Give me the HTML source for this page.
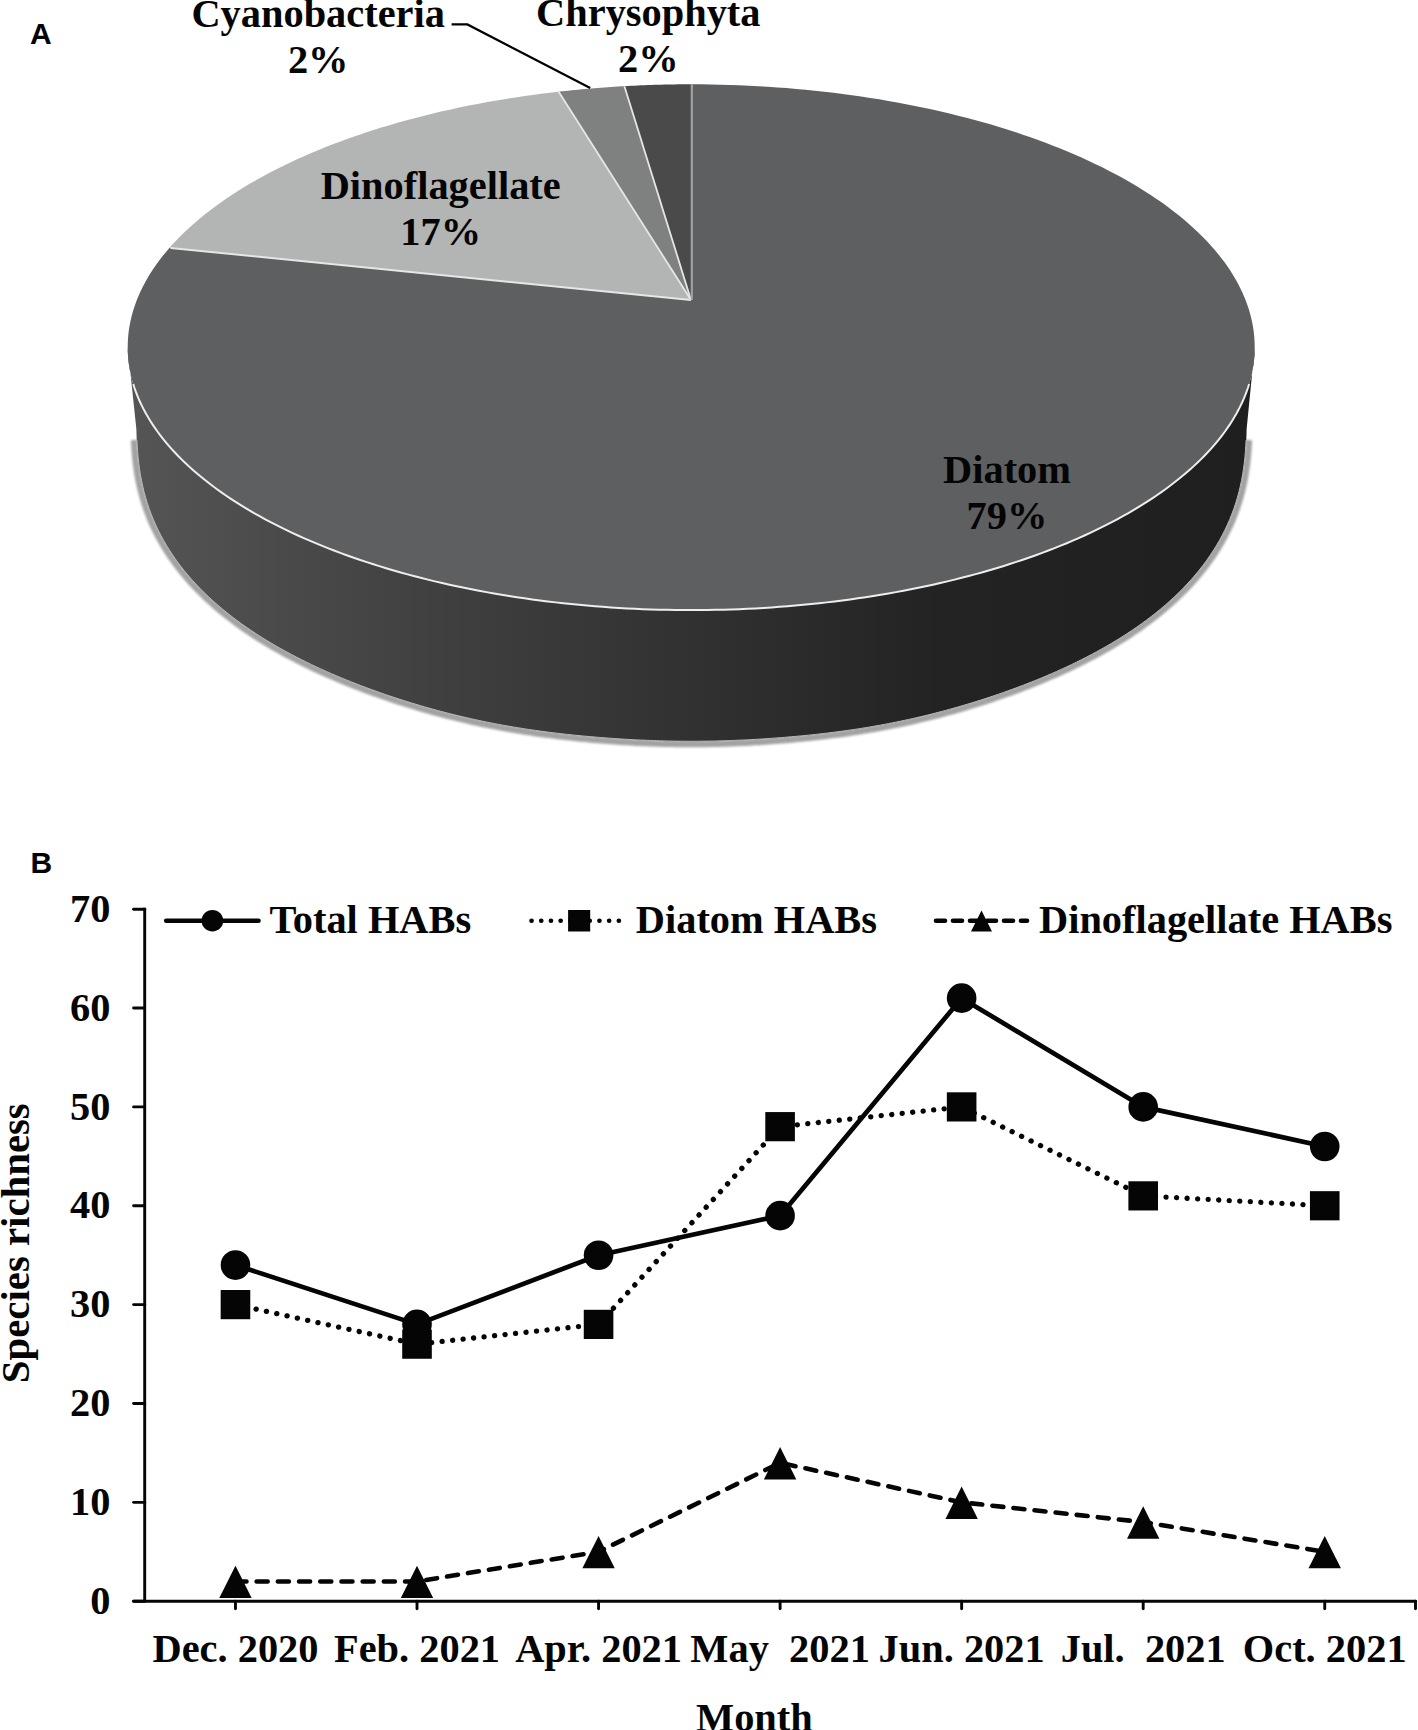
<!DOCTYPE html>
<html><head><meta charset="utf-8"><style>
html,body{margin:0;padding:0;background:#fff;}
body{width:1418px;height:1730px;overflow:hidden;}
svg{display:block;}
</style></head><body>
<svg width="1418" height="1730" viewBox="0 0 1418 1730">
<defs>
<linearGradient id="sideg" gradientUnits="userSpaceOnUse" x1="128" y1="0" x2="1255" y2="0">
<stop offset="0" stop-color="#555555"/>
<stop offset="0.15" stop-color="#494949"/>
<stop offset="0.33" stop-color="#3c3c3c"/>
<stop offset="0.5" stop-color="#313131"/>
<stop offset="0.72" stop-color="#232323"/>
<stop offset="1" stop-color="#1f1f1f"/>
</linearGradient>
<filter id="blur2" x="-5%" y="-5%" width="110%" height="110%"><feGaussianBlur stdDeviation="1.3"/></filter>
</defs>
<rect width="1418" height="1730" fill="#ffffff"/>
<polyline points="1248.88,440.00 1248.58,445.83 1248.19,451.66 1247.68,457.48 1247.04,463.28 1246.28,469.07 1245.37,474.85 1244.32,480.60 1243.11,486.32 1241.75,492.01 1240.22,497.67 1238.53,503.29 1236.66,508.87 1234.64,514.40 1232.44,519.88 1230.08,525.30 1227.55,530.67 1224.85,535.97 1222.00,541.20 1218.99,546.36 1215.83,551.45 1212.52,556.46 1209.07,561.39 1205.48,566.25 1201.76,571.01 1197.91,575.69 1193.94,580.28 1189.86,584.79 1185.67,589.20 1181.37,593.52 1176.99,597.74 1172.51,601.88 1167.96,605.92 1163.33,609.87 1158.63,613.72 1153.87,617.49 1149.05,621.16 1144.19,624.74 1139.28,628.23 1134.33,631.63 1129.35,634.94 1124.34,638.17 1119.31,641.31 1114.26,644.37 1109.20,647.35 1104.13,650.24 1099.05,653.06 1093.98,655.81 1088.91,658.48 1083.84,661.07 1078.79,663.60 1073.74,666.06 1068.71,668.45 1063.70,670.77 1058.71,673.04 1053.74,675.24 1048.79,677.38 1043.87,679.47 1038.97,681.50 1034.10,683.47 1029.26,685.40 1024.45,687.27 1019.67,689.09 1014.91,690.87 1010.19,692.59 1005.50,694.28 1000.85,695.91 996.22,697.51 991.62,699.06 987.06,700.57 982.53,702.04 978.03,703.48 973.56,704.87 969.12,706.23 964.71,707.55 960.34,708.84 955.99,710.09 951.67,711.30 947.38,712.49 943.12,713.64 938.89,714.75 934.69,715.84 930.51,716.90 926.36,717.92 922.24,718.92 918.14,719.88 914.07,720.82 910.03,721.73 906.01,722.61 902.02,723.46 898.05,724.29 894.11,725.10 890.19,725.87 886.29,726.62 882.42,727.35 878.57,728.06 874.74,728.74 870.94,729.40 867.15,730.04 863.39,730.65 859.65,731.25 855.94,731.83 852.24,732.38 848.56,732.92 844.91,733.44 841.27,733.94 837.66,734.43 834.06,734.90 830.48,735.35 826.92,735.79 823.38,736.21 819.86,736.61 816.35,737.01 812.86,737.39 809.39,737.76 805.93,738.11 802.49,738.45 799.07,738.78 795.66,739.10 792.26,739.41 788.88,739.70 785.51,739.99 782.15,740.26 778.81,740.53 775.48,740.78 772.16,741.03 768.85,741.26 765.55,741.49 762.26,741.70 758.98,741.91 755.71,742.11 752.45,742.29 749.20,742.47 745.95,742.64 742.71,742.80 739.48,742.95 736.26,743.09 733.04,743.22 729.82,743.34 726.61,743.46 723.41,743.56 720.20,743.65 717.01,743.74 713.81,743.81 710.62,743.87 707.43,743.93 704.24,743.97 701.05,744.01 697.87,744.03 694.68,744.05 691.50,744.05 688.32,744.05 685.13,744.03 681.95,744.01 678.76,743.97 675.57,743.93 672.38,743.87 669.19,743.81 665.99,743.74 662.80,743.65 659.59,743.56 656.39,743.46 653.18,743.34 649.96,743.22 646.74,743.09 643.52,742.95 640.29,742.80 637.05,742.64 633.80,742.47 630.55,742.29 627.29,742.11 624.02,741.91 620.74,741.70 617.45,741.49 614.15,741.26 610.84,741.03 607.52,740.78 604.19,740.53 600.85,740.26 597.49,739.99 594.12,739.70 590.74,739.41 587.34,739.10 583.93,738.78 580.51,738.45 577.07,738.11 573.61,737.76 570.14,737.39 566.65,737.01 563.14,736.61 559.62,736.21 556.08,735.79 552.52,735.35 548.94,734.90 545.34,734.43 541.73,733.94 538.09,733.44 534.44,732.92 530.76,732.38 527.06,731.83 523.35,731.25 519.61,730.65 515.85,730.04 512.06,729.40 508.26,728.74 504.43,728.06 500.58,727.35 496.71,726.62 492.81,725.87 488.89,725.10 484.95,724.29 480.98,723.46 476.99,722.61 472.97,721.73 468.93,720.82 464.86,719.88 460.76,718.92 456.64,717.92 452.49,716.90 448.31,715.84 444.11,714.75 439.88,713.64 435.62,712.49 431.33,711.30 427.01,710.09 422.66,708.84 418.29,707.55 413.88,706.23 409.44,704.87 404.97,703.48 400.47,702.04 395.94,700.57 391.38,699.06 386.78,697.51 382.15,695.91 377.50,694.28 372.81,692.59 368.09,690.87 363.33,689.09 358.55,687.27 353.74,685.40 348.90,683.47 344.03,681.50 339.13,679.47 334.21,677.38 329.26,675.24 324.29,673.04 319.30,670.77 314.29,668.45 309.26,666.06 304.21,663.60 299.16,661.07 294.09,658.48 289.02,655.81 283.95,653.06 278.87,650.24 273.80,647.35 268.74,644.37 263.69,641.31 258.66,638.17 253.65,634.94 248.67,631.63 243.72,628.23 238.81,624.74 233.95,621.16 229.13,617.49 224.37,613.72 219.67,609.87 215.04,605.92 210.49,601.88 206.01,597.74 201.63,593.52 197.33,589.20 193.14,584.79 189.06,580.28 185.09,575.69 181.24,571.01 177.52,566.25 173.93,561.39 170.48,556.46 167.17,551.45 164.01,546.36 161.00,541.20 158.15,535.97 155.45,530.67 152.92,525.30 150.56,519.88 148.36,514.40 146.34,508.87 144.47,503.29 142.78,497.67 141.25,492.01 139.89,486.32 138.68,480.60 137.63,474.85 136.72,469.07 135.96,463.28 135.32,457.48 134.81,451.66 134.42,445.83 134.12,440.00" fill="none" stroke="#a2a2a2" stroke-width="6.5" filter="url(#blur2)"/>
<polygon points="127.70,347.20 127.77,351.33 127.98,355.46 128.33,359.58 128.81,363.71 129.44,367.83 130.20,371.94 131.10,376.05 132.14,380.15 133.32,384.24 134.64,388.33 136.09,392.40 137.68,396.46 139.41,400.51 141.27,404.55 143.27,408.57 145.40,412.58 147.67,416.57 150.07,420.55 152.61,424.50 155.28,428.44 158.08,432.36 161.01,436.25 164.08,440.13 167.27,443.98 170.59,447.81 174.05,451.61 177.62,455.39 181.33,459.14 185.16,462.86 189.12,466.55 193.20,470.22 197.40,473.85 201.73,477.46 206.17,481.03 210.74,484.56 215.42,488.07 220.22,491.54 225.14,494.97 230.17,498.37 235.32,501.73 240.58,505.05 245.95,508.33 251.43,511.58 257.02,514.78 262.71,517.94 268.51,521.06 274.42,524.13 280.43,527.17 286.54,530.16 292.75,533.10 299.05,536.00 305.46,538.85 311.96,541.65 318.55,544.40 325.24,547.11 332.01,549.77 338.88,552.38 345.83,554.93 352.86,557.44 359.98,559.89 367.18,562.29 374.47,564.64 381.83,566.93 389.26,569.17 396.77,571.36 404.36,573.49 412.01,575.56 419.73,577.58 427.52,579.54 435.38,581.45 443.29,583.29 451.27,585.08 459.31,586.81 467.41,588.48 475.56,590.09 483.76,591.64 492.02,593.13 500.32,594.56 508.67,595.93 517.07,597.23 525.51,598.48 533.99,599.66 542.51,600.78 551.06,601.84 559.65,602.84 568.28,603.77 576.93,604.64 585.61,605.44 594.32,606.19 603.05,606.86 611.80,607.48 620.57,608.03 629.36,608.51 638.17,608.93 646.99,609.29 655.82,609.58 664.66,609.81 673.50,609.97 682.35,610.07 691.20,610.10 700.05,610.07 708.90,609.97 717.74,609.81 726.58,609.58 735.41,609.29 744.23,608.93 753.04,608.51 761.83,608.03 770.60,607.48 779.35,606.86 788.08,606.19 796.79,605.44 805.47,604.64 814.12,603.77 822.75,602.84 831.34,601.84 839.89,600.78 848.41,599.66 856.89,598.48 865.33,597.23 873.73,595.93 882.08,594.56 890.38,593.13 898.64,591.64 906.84,590.09 914.99,588.48 923.09,586.81 931.13,585.08 939.11,583.29 947.02,581.45 954.88,579.54 962.67,577.58 970.39,575.56 978.04,573.49 985.63,571.36 993.14,569.17 1000.57,566.93 1007.93,564.64 1015.22,562.29 1022.42,559.89 1029.54,557.44 1036.57,554.93 1043.52,552.38 1050.39,549.77 1057.16,547.11 1063.85,544.40 1070.44,541.65 1076.94,538.85 1083.35,536.00 1089.65,533.10 1095.86,530.16 1101.97,527.17 1107.98,524.13 1113.89,521.06 1119.69,517.94 1125.38,514.78 1130.97,511.58 1136.45,508.33 1141.82,505.05 1147.08,501.73 1152.23,498.37 1157.26,494.97 1162.18,491.54 1166.98,488.07 1171.66,484.56 1176.23,481.03 1180.67,477.46 1185.00,473.85 1189.20,470.22 1193.28,466.55 1197.24,462.86 1201.07,459.14 1204.78,455.39 1208.35,451.61 1211.81,447.81 1215.13,443.98 1218.32,440.13 1221.39,436.25 1224.32,432.36 1227.12,428.44 1229.79,424.50 1232.33,420.55 1234.73,416.57 1237.00,412.58 1239.13,408.57 1241.13,404.55 1242.99,400.51 1244.72,396.46 1246.31,392.40 1247.76,388.33 1249.08,384.24 1250.26,380.15 1251.30,376.05 1252.20,371.94 1252.96,367.83 1253.59,363.71 1254.07,359.58 1254.42,355.46 1254.63,351.33 1254.70,347.20 1246.63,428.90 1246.48,434.79 1246.25,440.67 1245.94,446.55 1245.52,452.42 1244.99,458.29 1244.33,464.14 1243.53,469.97 1242.59,475.78 1241.49,481.57 1240.24,487.34 1238.82,493.07 1237.24,498.76 1235.48,504.42 1233.56,510.03 1231.46,515.59 1229.19,521.09 1226.75,526.54 1224.14,531.92 1221.37,537.24 1218.43,542.49 1215.33,547.67 1212.08,552.76 1208.68,557.78 1205.14,562.72 1201.45,567.57 1197.64,572.34 1193.69,577.01 1189.63,581.59 1185.45,586.09 1181.17,590.48 1176.78,594.79 1172.30,599.00 1167.74,603.11 1163.09,607.13 1158.38,611.05 1153.59,614.88 1148.75,618.61 1143.85,622.25 1138.91,625.80 1133.92,629.25 1128.90,632.62 1123.85,635.90 1118.78,639.08 1113.68,642.19 1108.57,645.21 1103.45,648.14 1098.33,651.00 1093.20,653.77 1088.08,656.48 1082.96,659.10 1077.85,661.65 1072.75,664.14 1067.67,666.55 1062.60,668.90 1057.56,671.18 1052.53,673.40 1047.53,675.56 1042.56,677.66 1037.61,679.70 1032.69,681.69 1027.80,683.62 1022.94,685.50 1018.11,687.33 1013.31,689.11 1008.54,690.84 1003.81,692.53 999.11,694.17 994.44,695.76 989.80,697.31 985.20,698.83 980.62,700.30 976.08,701.73 971.58,703.12 967.10,704.47 962.66,705.79 958.25,707.07 953.86,708.31 949.51,709.52 945.19,710.70 940.90,711.84 936.64,712.95 932.41,714.03 928.20,715.08 924.03,716.09 919.88,717.08 915.76,718.03 911.66,718.96 907.59,719.86 903.55,720.73 899.54,721.57 895.54,722.39 891.58,723.18 887.64,723.94 883.72,724.68 879.83,725.40 875.96,726.09 872.11,726.76 868.29,727.40 864.49,728.03 860.72,728.63 856.96,729.21 853.23,729.77 849.52,730.32 845.83,730.84 842.16,731.35 838.51,731.84 834.88,732.31 831.27,732.76 827.68,733.20 824.11,733.62 820.56,734.03 817.03,734.43 813.51,734.81 810.01,735.18 806.53,735.53 803.06,735.87 799.61,736.20 796.18,736.52 792.76,736.83 789.36,737.12 785.97,737.41 782.59,737.68 779.23,737.94 775.87,738.20 772.53,738.44 769.21,738.68 765.89,738.90 762.58,739.11 759.29,739.32 756.00,739.52 752.72,739.70 749.45,739.88 746.19,740.05 742.93,740.21 739.69,740.36 736.45,740.50 733.21,740.63 729.98,740.75 726.76,740.86 723.54,740.96 720.32,741.05 717.11,741.14 713.90,741.21 710.70,741.27 707.49,741.33 704.29,741.37 701.09,741.41 697.89,741.43 694.70,741.45 691.50,741.45 688.30,741.45 685.11,741.43 681.91,741.41 678.71,741.37 675.51,741.33 672.30,741.27 669.10,741.21 665.89,741.14 662.68,741.05 659.46,740.96 656.24,740.86 653.02,740.75 649.79,740.63 646.55,740.50 643.31,740.36 640.07,740.21 636.81,740.05 633.55,739.88 630.28,739.70 627.00,739.52 623.71,739.32 620.42,739.11 617.11,738.90 613.79,738.68 610.47,738.44 607.13,738.20 603.77,737.94 600.41,737.68 597.03,737.41 593.64,737.12 590.24,736.83 586.82,736.52 583.39,736.20 579.94,735.87 576.47,735.53 572.99,735.18 569.49,734.81 565.97,734.43 562.44,734.03 558.89,733.62 555.32,733.20 551.73,732.76 548.12,732.31 544.49,731.84 540.84,731.35 537.17,730.84 533.48,730.32 529.77,729.77 526.04,729.21 522.28,728.63 518.51,728.03 514.71,727.40 510.89,726.76 507.04,726.09 503.17,725.40 499.28,724.68 495.36,723.94 491.42,723.18 487.46,722.39 483.46,721.57 479.45,720.73 475.41,719.86 471.34,718.96 467.24,718.03 463.12,717.08 458.97,716.09 454.80,715.08 450.59,714.03 446.36,712.95 442.10,711.84 437.81,710.70 433.49,709.52 429.14,708.31 424.75,707.07 420.34,705.79 415.90,704.47 411.42,703.12 406.92,701.73 402.38,700.30 397.80,698.83 393.20,697.31 388.56,695.76 383.89,694.17 379.19,692.53 374.46,690.84 369.69,689.11 364.89,687.33 360.06,685.50 355.20,683.62 350.31,681.69 345.39,679.70 340.44,677.66 335.47,675.56 330.47,673.40 325.44,671.18 320.40,668.90 315.33,666.55 310.25,664.14 305.15,661.65 300.04,659.10 294.92,656.48 289.80,653.77 284.67,651.00 279.55,648.14 274.43,645.21 269.32,642.19 264.22,639.08 259.15,635.90 254.10,632.62 249.08,629.25 244.09,625.80 239.15,622.25 234.25,618.61 229.41,614.88 224.62,611.05 219.91,607.13 215.26,603.11 210.70,599.00 206.22,594.79 201.83,590.48 197.55,586.09 193.37,581.59 189.31,577.01 185.36,572.34 181.55,567.57 177.86,562.72 174.32,557.78 170.92,552.76 167.67,547.67 164.57,542.49 161.63,537.24 158.86,531.92 156.25,526.54 153.81,521.09 151.54,515.59 149.44,510.03 147.52,504.42 145.76,498.76 144.18,493.07 142.76,487.34 141.51,481.57 140.41,475.78 139.47,469.97 138.67,464.14 138.01,458.29 137.48,452.42 137.06,446.55 136.75,440.67 136.52,434.79 136.37,428.90" fill="url(#sideg)"/>
<polyline points="1246.08,440.00 1245.78,445.80 1245.39,451.60 1244.88,457.39 1244.25,463.17 1243.48,468.93 1242.58,474.67 1241.53,480.39 1240.32,486.09 1238.96,491.75 1237.43,497.38 1235.74,502.97 1233.89,508.52 1231.86,514.02 1229.67,519.47 1227.31,524.86 1224.79,530.20 1222.10,535.47 1219.25,540.67 1216.25,545.81 1213.09,550.87 1209.79,555.85 1206.34,560.76 1202.76,565.58 1199.04,570.32 1195.20,574.97 1191.24,579.53 1187.17,584.00 1182.98,588.39 1178.70,592.68 1174.32,596.88 1169.86,600.99 1165.31,605.00 1160.69,608.92 1156.00,612.75 1151.25,616.48 1146.45,620.13 1141.59,623.68 1136.69,627.14 1131.76,630.52 1126.79,633.80 1121.79,637.00 1116.77,640.12 1111.74,643.15 1106.69,646.10 1101.63,648.97 1096.57,651.77 1091.51,654.48 1086.45,657.13 1081.40,659.70 1076.36,662.20 1071.33,664.63 1066.32,667.00 1061.32,669.30 1056.35,671.54 1051.39,673.72 1046.46,675.83 1041.55,677.90 1036.67,679.90 1031.82,681.85 1027.00,683.75 1022.20,685.60 1017.44,687.40 1012.70,689.15 1008.00,690.85 1003.33,692.51 998.69,694.13 994.08,695.70 989.51,697.23 984.96,698.72 980.45,700.17 975.97,701.58 971.52,702.95 967.10,704.29 962.71,705.59 958.36,706.86 954.03,708.09 949.73,709.28 945.46,710.44 941.23,711.57 937.02,712.67 932.83,713.74 928.68,714.78 924.55,715.78 920.45,716.76 916.38,717.71 912.33,718.62 908.31,719.52 904.32,720.38 900.35,721.22 896.40,722.03 892.48,722.81 888.59,723.57 884.72,724.31 880.87,725.02 877.04,725.71 873.24,726.38 869.46,727.02 865.70,727.64 861.97,728.24 858.25,728.83 854.56,729.39 850.89,729.93 847.24,730.45 843.61,730.96 840.00,731.45 836.41,731.92 832.84,732.38 829.29,732.81 825.76,733.24 822.24,733.65 818.74,734.04 815.27,734.43 811.80,734.80 808.36,735.15 804.93,735.50 801.52,735.83 798.12,736.15 794.74,736.46 791.37,736.75 788.01,737.04 784.67,737.32 781.35,737.58 778.03,737.84 774.73,738.09 771.44,738.32 768.15,738.55 764.88,738.77 761.62,738.98 758.37,739.18 755.13,739.37 751.90,739.55 748.67,739.72 745.46,739.88 742.25,740.04 739.04,740.18 735.85,740.32 732.66,740.45 729.47,740.57 726.29,740.67 723.11,740.77 719.94,740.86 716.77,740.95 713.61,741.02 710.44,741.08 707.28,741.13 704.12,741.18 700.97,741.21 697.81,741.23 694.65,741.25 691.50,741.25 688.35,741.25 685.19,741.23 682.03,741.21 678.88,741.18 675.72,741.13 672.56,741.08 669.39,741.02 666.23,740.95 663.06,740.86 659.89,740.77 656.71,740.67 653.53,740.57 650.34,740.45 647.15,740.32 643.96,740.18 640.75,740.04 637.54,739.88 634.33,739.72 631.10,739.55 627.87,739.37 624.63,739.18 621.38,738.98 618.12,738.77 614.85,738.55 611.56,738.32 608.27,738.09 604.97,737.84 601.65,737.58 598.33,737.32 594.99,737.04 591.63,736.75 588.26,736.46 584.88,736.15 581.48,735.83 578.07,735.50 574.64,735.15 571.20,734.80 567.73,734.43 564.26,734.04 560.76,733.65 557.24,733.24 553.71,732.81 550.16,732.38 546.59,731.92 543.00,731.45 539.39,730.96 535.76,730.45 532.11,729.93 528.44,729.39 524.75,728.83 521.03,728.24 517.30,727.64 513.54,727.02 509.76,726.38 505.96,725.71 502.13,725.02 498.28,724.31 494.41,723.57 490.52,722.81 486.60,722.03 482.65,721.22 478.68,720.38 474.69,719.52 470.67,718.62 466.62,717.71 462.55,716.76 458.45,715.78 454.32,714.78 450.17,713.74 445.98,712.67 441.77,711.57 437.54,710.44 433.27,709.28 428.97,708.09 424.64,706.86 420.29,705.59 415.90,704.29 411.48,702.95 407.03,701.58 402.55,700.17 398.04,698.72 393.49,697.23 388.92,695.70 384.31,694.13 379.67,692.51 375.00,690.85 370.30,689.15 365.56,687.40 360.80,685.60 356.00,683.75 351.18,681.85 346.33,679.90 341.45,677.90 336.54,675.83 331.61,673.72 326.65,671.54 321.68,669.30 316.68,667.00 311.67,664.63 306.64,662.20 301.60,659.70 296.55,657.13 291.49,654.48 286.43,651.77 281.37,648.97 276.31,646.10 271.26,643.15 266.23,640.12 261.21,637.00 256.21,633.80 251.24,630.52 246.31,627.14 241.41,623.68 236.55,620.13 231.75,616.48 227.00,612.75 222.31,608.92 217.69,605.00 213.14,600.99 208.68,596.88 204.30,592.68 200.02,588.39 195.83,584.00 191.76,579.53 187.80,574.97 183.96,570.32 180.24,565.58 176.66,560.76 173.21,555.85 169.91,550.87 166.75,545.81 163.75,540.67 160.90,535.47 158.21,530.20 155.69,524.86 153.33,519.47 151.14,514.02 149.11,508.52 147.26,502.97 145.57,497.38 144.04,491.75 142.68,486.09 141.47,480.39 140.42,474.67 139.52,468.93 138.75,463.17 138.12,457.39 137.61,451.60 137.22,445.80 136.92,440.00" fill="none" stroke="#b9b9b9" stroke-width="1"/>
<polygon points="691.00,300.00 691.30,84.30 700.88,84.34 710.46,84.45 720.03,84.64 729.59,84.91 739.14,85.25 748.68,85.67 758.20,86.16 767.70,86.73 777.18,87.38 786.64,88.10 796.06,88.89 805.46,89.76 814.83,90.70 824.15,91.72 833.44,92.81 842.69,93.98 851.90,95.22 861.06,96.53 870.17,97.91 879.22,99.37 888.23,100.89 897.17,102.49 906.06,104.16 914.88,105.90 923.64,107.71 932.34,109.59 940.96,111.53 949.51,113.55 957.99,115.63 966.39,117.78 974.71,120.00 982.94,122.28 991.10,124.62 999.16,127.04 1007.14,129.51 1015.03,132.05 1022.82,134.65 1030.52,137.31 1038.12,140.03 1045.62,142.81 1053.01,145.65 1060.30,148.55 1067.49,151.51 1074.57,154.52 1081.53,157.59 1088.38,160.71 1095.12,163.89 1101.74,167.12 1108.25,170.40 1114.63,173.73 1120.89,177.12 1127.02,180.55 1133.03,184.03 1138.91,187.56 1144.67,191.13 1150.29,194.75 1155.78,198.41 1161.13,202.12 1166.35,205.87 1171.43,209.66 1176.37,213.49 1181.17,217.35 1185.83,221.26 1190.35,225.20 1194.73,229.18 1198.95,233.19 1203.03,237.23 1206.97,241.31 1210.75,245.41 1214.38,249.55 1217.87,253.71 1221.20,257.90 1224.38,262.12 1227.40,266.36 1230.27,270.62 1232.98,274.91 1235.53,279.22 1237.93,283.55 1240.17,287.89 1242.26,292.25 1244.18,296.63 1245.94,301.03 1247.54,305.43 1248.98,309.85 1250.26,314.28 1251.38,318.72 1252.34,323.17 1253.13,327.62 1253.77,332.08 1254.24,336.54 1254.54,341.01 1254.69,345.48 1254.67,349.95 1254.49,354.42 1254.14,358.88 1253.64,363.35 1252.97,367.81 1252.13,372.26 1251.14,376.70 1249.98,381.14 1248.67,385.57 1247.19,389.98 1245.55,394.39 1243.75,398.78 1241.79,403.15 1239.67,407.51 1237.40,411.85 1234.96,416.17 1232.37,420.48 1229.62,424.76 1226.72,429.02 1223.66,433.25 1220.45,437.46 1217.08,441.65 1213.56,445.81 1209.89,449.94 1206.08,454.03 1202.11,458.10 1197.99,462.14 1193.73,466.14 1189.33,470.11 1184.77,474.04 1180.08,477.94 1175.25,481.80 1170.27,485.62 1165.16,489.40 1159.91,493.14 1154.52,496.83 1149.01,500.49 1143.35,504.09 1137.57,507.66 1131.66,511.18 1125.62,514.64 1119.46,518.07 1113.17,521.44 1106.76,524.76 1100.23,528.03 1093.58,531.25 1086.82,534.41 1079.94,537.52 1072.95,540.58 1065.85,543.58 1058.64,546.52 1051.32,549.41 1043.90,552.23 1036.38,555.00 1028.76,557.71 1021.04,560.36 1013.22,562.94 1005.31,565.46 997.32,567.92 989.23,570.32 981.06,572.65 972.80,574.92 964.46,577.12 956.04,579.25 947.55,581.32 938.98,583.32 930.34,585.25 921.63,587.11 912.86,588.91 904.02,590.63 895.12,592.28 886.16,593.86 877.14,595.37 868.07,596.81 858.95,598.18 849.78,599.47 840.57,600.70 831.31,601.84 822.01,602.92 812.67,603.92 803.30,604.85 793.90,605.70 784.46,606.47 775.00,607.18 765.52,607.80 756.01,608.36 746.49,608.83 736.94,609.23 727.39,609.56 717.83,609.81 708.25,609.98 698.67,610.08 689.10,610.10 679.52,610.04 669.94,609.91 660.37,609.71 650.81,609.42 641.26,609.07 631.73,608.63 622.21,608.12 612.71,607.54 603.24,606.88 593.79,606.14 584.37,605.33 574.98,604.45 565.62,603.49 556.30,602.46 547.02,601.35 537.78,600.17 528.58,598.91 519.43,597.59 510.33,596.19 501.29,594.72 492.30,593.18 483.36,591.56 474.49,589.88 465.68,588.13 456.93,586.30 448.25,584.41 439.64,582.45 431.11,580.42 422.65,578.32 414.27,576.16 405.96,573.93 397.74,571.64 389.61,569.28 381.56,566.85 373.60,564.36 365.73,561.81 357.96,559.20 350.28,556.53 342.70,553.79 335.23,551.00 327.85,548.15 320.58,545.24 313.42,542.27 306.37,539.24 299.42,536.16 292.60,533.03 285.88,529.84 279.29,526.60 272.81,523.31 266.45,519.96 260.22,516.57 254.11,513.13 248.13,509.64 242.27,506.10 236.55,502.51 230.95,498.89 225.49,495.21 220.17,491.50 214.98,487.74 209.92,483.94 205.01,480.11 200.24,476.23 195.61,472.32 191.12,468.37 186.78,464.39 182.58,460.37 178.53,456.32 174.63,452.24 170.88,448.12 167.27,443.98 163.82,439.81 160.52,435.62 157.38,431.40 154.39,427.15 151.55,422.88 148.87,418.59 146.35,414.28 143.98,409.95 141.78,405.60 139.73,401.23 137.84,396.85 136.11,392.45 134.54,388.04 133.13,383.62 131.89,379.19 130.80,374.75 129.88,370.30 129.12,365.85 128.52,361.39 128.09,356.92 127.81,352.45 127.70,347.99 127.76,343.52 127.97,339.05 128.35,334.58 128.89,330.12 129.59,325.66 130.46,321.21 131.49,316.77 132.68,312.33 134.03,307.91 135.54,303.49 137.21,299.09 139.05,294.71 141.04,290.33 143.19,285.98 145.50,281.64 147.97,277.32 150.59,273.02 153.37,268.75 156.31,264.49 159.40,260.26 162.65,256.06 166.04,251.88 169.59,247.73" fill="#5e5f61"/>
<polygon points="691.00,300.00 169.59,247.73 172.15,244.86 174.78,242.01 177.48,239.17 180.25,236.34 183.09,233.53 186.00,230.74 188.99,227.96 192.04,225.21 195.17,222.46 198.36,219.74 201.62,217.03 204.95,214.34 208.35,211.67 211.82,209.02 215.35,206.39 218.95,203.77 222.61,201.18 226.34,198.61 230.14,196.06 234.00,193.52 237.92,191.02 241.91,188.53 245.95,186.06 250.07,183.62 254.24,181.20 258.47,178.80 262.77,176.43 267.12,174.08 271.53,171.75 276.01,169.45 280.54,167.18 285.12,164.93 289.77,162.70 294.47,160.50 299.22,158.33 304.03,156.18 308.90,154.06 313.81,151.97 318.78,149.90 323.81,147.86 328.88,145.85 334.00,143.87 339.18,141.91 344.40,139.99 349.67,138.09 354.99,136.22 360.35,134.38 365.77,132.58 371.22,130.80 376.73,129.05 382.27,127.33 387.86,125.64 393.49,123.99 399.16,122.36 404.88,120.77 410.63,119.20 416.42,117.67 422.26,116.18 428.12,114.71 434.03,113.28 439.97,111.87 445.95,110.51 451.96,109.17 458.00,107.87 464.08,106.60 470.19,105.37 476.33,104.16 482.50,103.00 488.69,101.86 494.92,100.76 501.17,99.70 507.45,98.67 513.76,97.67 520.09,96.71 526.45,95.79 532.82,94.90 539.22,94.04 545.64,93.22 552.09,92.44 558.55,91.69" fill="#b3b4b4"/>
<polygon points="691.00,300.00 558.55,91.69 561.80,91.33 565.06,90.97 568.33,90.63 571.60,90.29 574.87,89.96 578.15,89.64 581.43,89.34 584.72,89.04 588.01,88.75 591.30,88.46 594.60,88.19 597.90,87.93 601.20,87.67 604.51,87.43 607.82,87.19 611.13,86.97 614.45,86.75 617.77,86.54 621.09,86.34 624.41,86.15" fill="#7f8080"/>
<polygon points="691.00,300.00 624.41,86.15 627.74,85.97 631.07,85.80 634.41,85.64 637.74,85.49 641.08,85.34 644.42,85.21 647.76,85.08 651.11,84.97 654.45,84.86 657.80,84.76 661.14,84.67 664.49,84.60 667.84,84.53 671.19,84.47 674.54,84.41 677.89,84.37 681.24,84.34 684.60,84.32 687.95,84.30 691.30,84.30" fill="#4a4a4a"/>
<line x1="691.0" y1="300.0" x2="170.5" y2="247.9" stroke="#e6e6e6" stroke-width="2"/>
<line x1="691.0" y1="300.0" x2="558.5" y2="91.6" stroke="#e6e6e6" stroke-width="1.8"/>
<line x1="691.0" y1="300.0" x2="624.5" y2="86.5" stroke="#e6e6e6" stroke-width="1.8"/>
<line x1="691.8" y1="300.0" x2="691.8" y2="84.3" stroke="#a2a2a2" stroke-width="2.2"/>
<polyline points="133.25,384.00 134.43,387.72 135.73,391.43 137.15,395.13 138.67,398.83 140.31,402.51 142.06,406.18 143.93,409.84 145.90,413.48 147.99,417.11 150.19,420.73 152.50,424.33 154.92,427.92 157.45,431.49 160.09,435.04 162.83,438.58 165.69,442.10 168.65,445.59 171.72,449.07 174.90,452.53 178.18,455.96 181.57,459.37 185.06,462.76 188.65,466.13 192.35,469.47 196.15,472.79 200.05,476.08 204.05,479.34 208.15,482.58 212.35,485.79 216.65,488.97 221.05,492.12 225.54,495.24 230.12,498.34 234.80,501.40 239.58,504.43 244.44,507.42 249.40,510.39 254.45,513.32 259.59,516.22 264.81,519.08 270.13,521.91 275.52,524.70 281.01,527.46 286.58,530.18 292.23,532.86 297.96,535.50 303.77,538.11 309.67,540.67 315.64,543.20 321.68,545.68 327.81,548.13 334.00,550.53 340.27,552.90 346.62,555.22 353.03,557.49 359.51,559.73 366.06,561.92 372.68,564.07 379.36,566.17 386.10,568.23 392.91,570.24 399.78,572.21 406.71,574.13 413.69,576.01 420.73,577.84 427.83,579.62 434.99,581.35 442.19,583.04 449.45,584.68 456.75,586.26 464.10,587.80 471.50,589.30 478.95,590.74 486.44,592.13 493.97,593.47 501.54,594.76 509.14,596.00 516.79,597.19 524.47,598.33 532.19,599.42 539.94,600.45 547.72,601.43 555.53,602.37 563.36,603.25 571.22,604.07 579.11,604.85 587.02,605.57 594.95,606.24 602.90,606.85 610.87,607.42 618.86,607.92 626.86,608.38 634.87,608.78 642.90,609.13 650.93,609.43 658.98,609.67 667.03,609.86 675.08,609.99 683.14,610.07 691.20,610.10 699.26,610.07 707.32,609.99 715.37,609.86 723.42,609.67 731.47,609.43 739.50,609.13 747.53,608.78 755.54,608.38 763.54,607.92 771.53,607.42 779.50,606.85 787.45,606.24 795.38,605.57 803.29,604.85 811.18,604.07 819.04,603.25 826.87,602.37 834.68,601.43 842.46,600.45 850.21,599.42 857.93,598.33 865.61,597.19 873.26,596.00 880.86,594.76 888.43,593.47 895.96,592.13 903.45,590.74 910.90,589.30 918.30,587.80 925.65,586.26 932.95,584.68 940.21,583.04 947.41,581.35 954.57,579.62 961.67,577.84 968.71,576.01 975.69,574.13 982.62,572.21 989.49,570.24 996.30,568.23 1003.04,566.17 1009.72,564.07 1016.34,561.92 1022.89,559.73 1029.37,557.49 1035.78,555.22 1042.13,552.90 1048.40,550.53 1054.59,548.13 1060.72,545.68 1066.76,543.20 1072.73,540.67 1078.63,538.11 1084.44,535.50 1090.17,532.86 1095.82,530.18 1101.39,527.46 1106.88,524.70 1112.27,521.91 1117.59,519.08 1122.81,516.22 1127.95,513.32 1133.00,510.39 1137.96,507.42 1142.82,504.43 1147.60,501.40 1152.28,498.34 1156.86,495.24 1161.35,492.12 1165.75,488.97 1170.05,485.79 1174.25,482.58 1178.35,479.34 1182.35,476.08 1186.25,472.79 1190.05,469.47 1193.75,466.13 1197.34,462.76 1200.83,459.37 1204.22,455.96 1207.50,452.53 1210.68,449.07 1213.75,445.59 1216.71,442.10 1219.57,438.58 1222.31,435.04 1224.95,431.49 1227.48,427.92 1229.90,424.33 1232.21,420.73 1234.41,417.11 1236.50,413.48 1238.47,409.84 1240.34,406.18 1242.09,402.51 1243.73,398.83 1245.25,395.13 1246.67,391.43 1247.97,387.72 1249.15,384.00" fill="none" stroke="#eeeeee" stroke-width="2"/>
<polyline points="451.6,24.4 467.4,24.4 590.2,87.9" fill="none" stroke="#000" stroke-width="2.2"/>
<text x="318.20" y="26.70" text-anchor="middle" font-family="Liberation Serif" font-weight="bold" font-size="40.4" fill="#050505">Cyanobacteria</text>
<text x="318.20" y="73.00" text-anchor="middle" font-family="Liberation Serif" font-weight="bold" font-size="40.4" fill="#050505">2%</text>
<text x="648.30" y="26.40" text-anchor="middle" font-family="Liberation Serif" font-weight="bold" font-size="40.4" fill="#050505">Chrysophyta</text>
<text x="648.30" y="71.90" text-anchor="middle" font-family="Liberation Serif" font-weight="bold" font-size="40.4" fill="#050505">2%</text>
<text x="440.70" y="198.50" text-anchor="middle" font-family="Liberation Serif" font-weight="bold" font-size="40.4" fill="#050505">Dinoflagellate</text>
<text x="440.70" y="245.30" text-anchor="middle" font-family="Liberation Serif" font-weight="bold" font-size="40.4" fill="#050505">17%</text>
<text x="1007.00" y="482.90" text-anchor="middle" font-family="Liberation Serif" font-weight="bold" font-size="40.4" fill="#050505">Diatom</text>
<text x="1007.00" y="529.10" text-anchor="middle" font-family="Liberation Serif" font-weight="bold" font-size="40.4" fill="#050505">79%</text>
<text x="29.9" y="43.9" font-family="Liberation Sans" font-weight="bold" font-size="30" fill="#000">A</text>
<text x="30.4" y="873.2" font-family="Liberation Sans" font-weight="bold" font-size="30" fill="#000">B</text>
<line x1="144.7" y1="907.73" x2="144.7" y2="1601.2" stroke="#050505" stroke-width="2.9"/>
<line x1="133.6" y1="1601.2" x2="1415.5" y2="1601.2" stroke="#050505" stroke-width="2.9" stroke-linecap="round"/>
<line x1="133.6" y1="1601.20" x2="144.7" y2="1601.20" stroke="#050505" stroke-width="2.9" stroke-linecap="round"/>
<text x="110.50" y="1613.80" text-anchor="end" font-family="Liberation Serif" font-weight="bold" font-size="40.4" fill="#050505">0</text>
<line x1="133.6" y1="1502.34" x2="144.7" y2="1502.34" stroke="#050505" stroke-width="2.9" stroke-linecap="round"/>
<text x="110.50" y="1514.94" text-anchor="end" font-family="Liberation Serif" font-weight="bold" font-size="40.4" fill="#050505">10</text>
<line x1="133.6" y1="1403.48" x2="144.7" y2="1403.48" stroke="#050505" stroke-width="2.9" stroke-linecap="round"/>
<text x="110.50" y="1416.08" text-anchor="end" font-family="Liberation Serif" font-weight="bold" font-size="40.4" fill="#050505">20</text>
<line x1="133.6" y1="1304.62" x2="144.7" y2="1304.62" stroke="#050505" stroke-width="2.9" stroke-linecap="round"/>
<text x="110.50" y="1317.22" text-anchor="end" font-family="Liberation Serif" font-weight="bold" font-size="40.4" fill="#050505">30</text>
<line x1="133.6" y1="1205.76" x2="144.7" y2="1205.76" stroke="#050505" stroke-width="2.9" stroke-linecap="round"/>
<text x="110.50" y="1218.36" text-anchor="end" font-family="Liberation Serif" font-weight="bold" font-size="40.4" fill="#050505">40</text>
<line x1="133.6" y1="1106.90" x2="144.7" y2="1106.90" stroke="#050505" stroke-width="2.9" stroke-linecap="round"/>
<text x="110.50" y="1119.50" text-anchor="end" font-family="Liberation Serif" font-weight="bold" font-size="40.4" fill="#050505">50</text>
<line x1="133.6" y1="1008.04" x2="144.7" y2="1008.04" stroke="#050505" stroke-width="2.9" stroke-linecap="round"/>
<text x="110.50" y="1020.64" text-anchor="end" font-family="Liberation Serif" font-weight="bold" font-size="40.4" fill="#050505">60</text>
<line x1="133.6" y1="909.18" x2="144.7" y2="909.18" stroke="#050505" stroke-width="2.9" stroke-linecap="round"/>
<text x="110.50" y="921.78" text-anchor="end" font-family="Liberation Serif" font-weight="bold" font-size="40.4" fill="#050505">70</text>
<line x1="235.47" y1="1601.2" x2="235.47" y2="1608.7" stroke="#050505" stroke-width="2.9" stroke-linecap="round"/>
<line x1="417.01" y1="1601.2" x2="417.01" y2="1608.7" stroke="#050505" stroke-width="2.9" stroke-linecap="round"/>
<line x1="598.56" y1="1601.2" x2="598.56" y2="1608.7" stroke="#050505" stroke-width="2.9" stroke-linecap="round"/>
<line x1="780.10" y1="1601.2" x2="780.10" y2="1608.7" stroke="#050505" stroke-width="2.9" stroke-linecap="round"/>
<line x1="961.64" y1="1601.2" x2="961.64" y2="1608.7" stroke="#050505" stroke-width="2.9" stroke-linecap="round"/>
<line x1="1143.19" y1="1601.2" x2="1143.19" y2="1608.7" stroke="#050505" stroke-width="2.9" stroke-linecap="round"/>
<line x1="1324.73" y1="1601.2" x2="1324.73" y2="1608.7" stroke="#050505" stroke-width="2.9" stroke-linecap="round"/>
<line x1="1415.50" y1="1601.2" x2="1415.50" y2="1608.7" stroke="#050505" stroke-width="2.9" stroke-linecap="round"/>
<text x="235.47" y="1662.00" text-anchor="middle" font-family="Liberation Serif" font-weight="bold" font-size="40.4" fill="#050505">Dec. 2020</text>
<text x="417.01" y="1662.00" text-anchor="middle" font-family="Liberation Serif" font-weight="bold" font-size="40.4" fill="#050505">Feb. 2021</text>
<text x="598.56" y="1662.00" text-anchor="middle" font-family="Liberation Serif" font-weight="bold" font-size="40.4" fill="#050505">Apr. 2021</text>
<text x="780.10" y="1662.00" text-anchor="middle" font-family="Liberation Serif" font-weight="bold" font-size="40.4" fill="#050505">May&#160;&#160;2021</text>
<text x="961.64" y="1662.00" text-anchor="middle" font-family="Liberation Serif" font-weight="bold" font-size="40.4" fill="#050505">Jun. 2021</text>
<text x="1143.19" y="1662.00" text-anchor="middle" font-family="Liberation Serif" font-weight="bold" font-size="40.4" fill="#050505">Jul.&#160;&#160;2021</text>
<text x="1324.73" y="1662.00" text-anchor="middle" font-family="Liberation Serif" font-weight="bold" font-size="40.4" fill="#050505">Oct. 2021</text>
<text x="754.40" y="1730.50" text-anchor="middle" font-family="Liberation Serif" font-weight="bold" font-size="40.4" fill="#050505">Month</text>
<text transform="translate(28.8,1243.2) rotate(-90)" x="0" y="0" text-anchor="middle" font-family="Liberation Serif" font-weight="bold" font-size="40.8" fill="#050505">Species richness</text>
<polyline points="235.47,1581.43 417.01,1581.43 598.56,1551.77 780.10,1462.80 961.64,1502.34 1143.19,1522.11 1324.73,1551.77" fill="none" stroke="#050505" stroke-width="4.6" stroke-linecap="round" stroke-dasharray="11 10.2"/>
<polyline points="235.47,1304.62 417.01,1344.16 598.56,1324.39 780.10,1126.67 961.64,1106.90 1143.19,1195.87 1324.73,1205.76" fill="none" stroke="#050505" stroke-width="5.3" stroke-linecap="round" stroke-dasharray="0.1 10.45"/>
<polyline points="235.47,1265.08 417.01,1324.39 598.56,1255.19 780.10,1215.65 961.64,998.15 1143.19,1106.90 1324.73,1146.44" fill="none" stroke="#050505" stroke-width="4.7" stroke-linejoin="round"/>
<circle cx="235.47" cy="1265.08" r="14.8" fill="#050505"/>
<circle cx="417.01" cy="1324.39" r="14.8" fill="#050505"/>
<circle cx="598.56" cy="1255.19" r="14.8" fill="#050505"/>
<circle cx="780.10" cy="1215.65" r="14.8" fill="#050505"/>
<circle cx="961.64" cy="998.15" r="14.8" fill="#050505"/>
<circle cx="1143.19" cy="1106.90" r="14.8" fill="#050505"/>
<circle cx="1324.73" cy="1146.44" r="14.8" fill="#050505"/>
<rect x="220.67" y="1290.02" width="29.6" height="29.2" fill="#050505"/>
<rect x="402.21" y="1329.56" width="29.6" height="29.2" fill="#050505"/>
<rect x="583.76" y="1309.79" width="29.6" height="29.2" fill="#050505"/>
<rect x="765.30" y="1112.07" width="29.6" height="29.2" fill="#050505"/>
<rect x="946.84" y="1092.30" width="29.6" height="29.2" fill="#050505"/>
<rect x="1128.39" y="1181.27" width="29.6" height="29.2" fill="#050505"/>
<rect x="1309.93" y="1191.16" width="29.6" height="29.2" fill="#050505"/>
<polygon points="235.47,1565.63 251.67,1598.03 219.27,1598.03" fill="#050505"/>
<polygon points="417.01,1565.63 433.21,1598.03 400.81,1598.03" fill="#050505"/>
<polygon points="598.56,1535.97 614.76,1568.37 582.36,1568.37" fill="#050505"/>
<polygon points="780.10,1447.00 796.30,1479.40 763.90,1479.40" fill="#050505"/>
<polygon points="961.64,1486.54 977.84,1518.94 945.44,1518.94" fill="#050505"/>
<polygon points="1143.19,1506.31 1159.39,1538.71 1126.99,1538.71" fill="#050505"/>
<polygon points="1324.73,1535.97 1340.93,1568.37 1308.53,1568.37" fill="#050505"/>
<line x1="166.2" y1="920.7" x2="258.5" y2="920.7" stroke="#050505" stroke-width="4.6" stroke-linecap="round"/>
<circle cx="212.4" cy="920.7" r="10.8" fill="#050505"/>
<text x="269.50" y="932.70" text-anchor="start" font-family="Liberation Serif" font-weight="bold" font-size="40.4" fill="#050505">Total HABs</text>
<line x1="531.5" y1="920.7" x2="620" y2="920.7" stroke="#050505" stroke-width="4.6" stroke-linecap="round" stroke-dasharray="0.1 9.6"/>
<rect x="568.1" y="910" width="22.1" height="21.5" fill="#050505"/>
<text x="635.80" y="932.70" text-anchor="start" font-family="Liberation Serif" font-weight="bold" font-size="40.4" fill="#050505">Diatom HABs</text>
<line x1="936" y1="920.7" x2="1027" y2="920.7" stroke="#050505" stroke-width="4.6" stroke-linecap="round" stroke-dasharray="9 8"/>
<polygon points="981.5,910.4 992,931.4 971,931.4" fill="#050505"/>
<text x="1039.00" y="932.70" text-anchor="start" font-family="Liberation Serif" font-weight="bold" font-size="40.4" fill="#050505">Dinoflagellate HABs</text>
</svg>
</body></html>
